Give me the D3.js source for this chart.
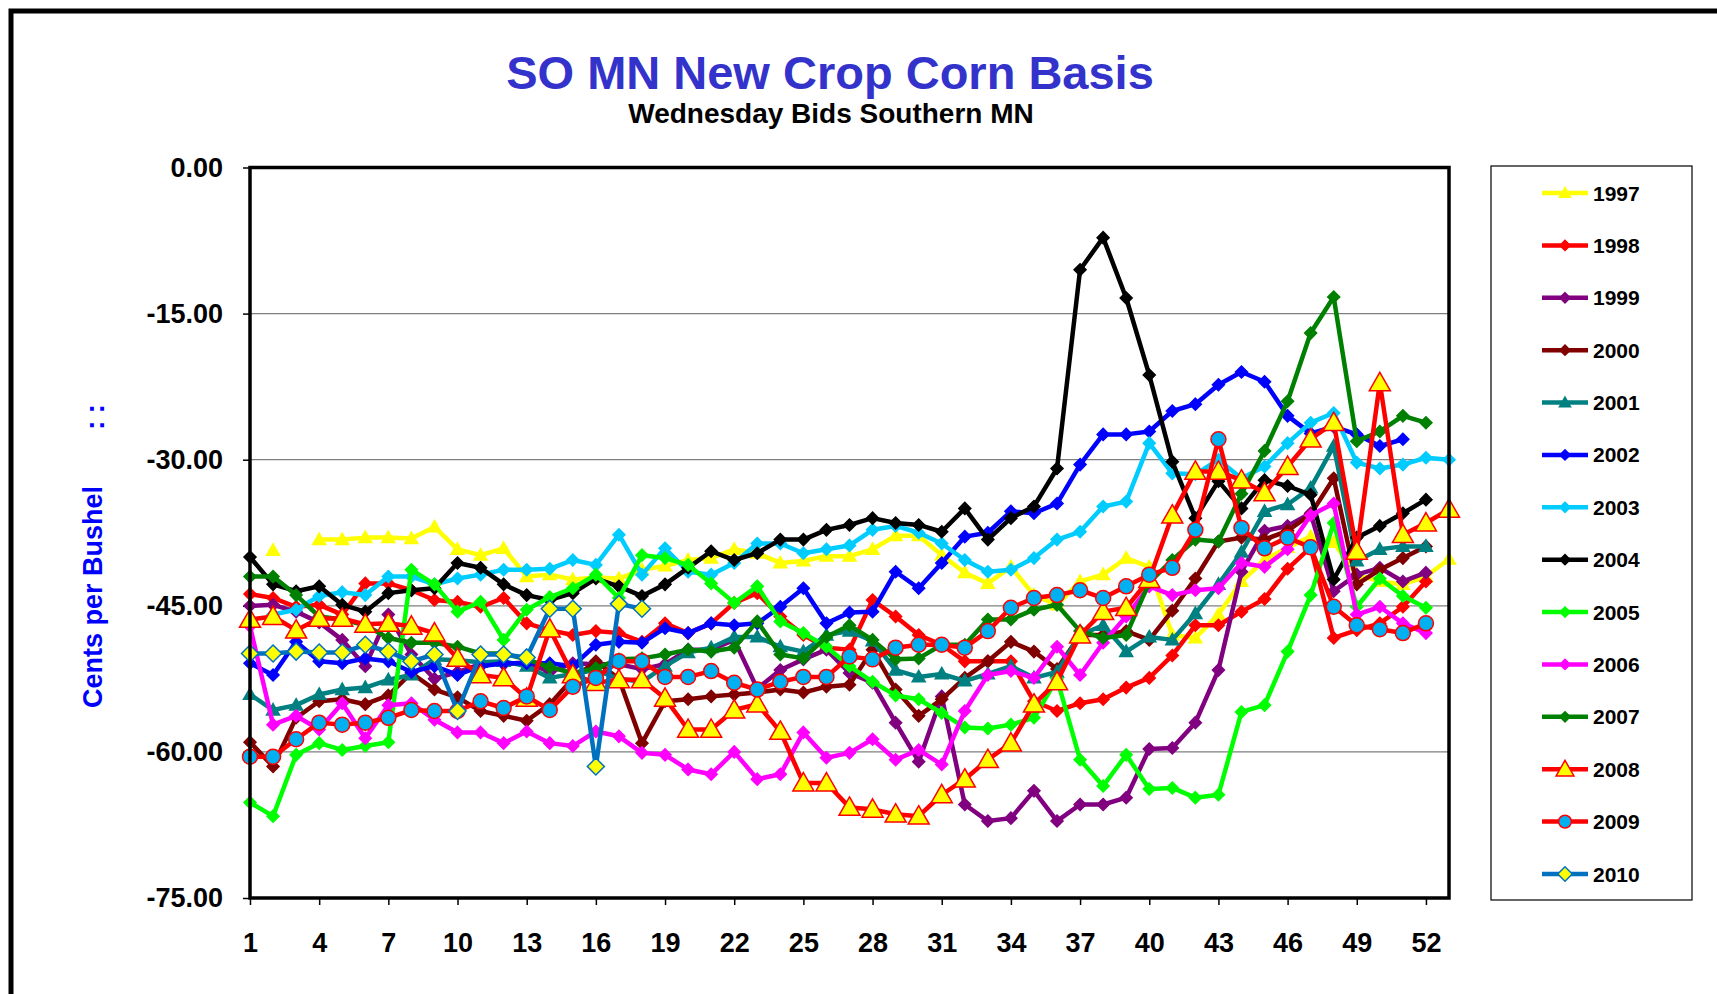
<!DOCTYPE html>
<html>
<head>
<meta charset="utf-8">
<title>SO MN New Crop Corn Basis</title>
<script src="https://d3js.org/d3.v7.min.js"></script>
<style>
  body { margin: 0; background: #ffffff; }
  text { font-family: Arial, "Liberation Sans", sans-serif; font-weight: bold; }
</style>
</head>
<body>
<div id="chart"></div>
<script>
// week numbers 1..53 and tick weeks on the x axis
var weeks = d3.range(1, 54);
var xTicks = [1, 4, 7, 10, 13, 16, 19, 22, 25, 28, 31, 34, 37, 40, 43, 46, 49, 52];
var yTicks = [0, -15, -30, -45, -60, -75];

// basis, cents per bushel, one value per week (null = no bid)
var y1997 = [null, -39.3, null, -38.2, -38.2, -38.0, -38.0, -38.1, -36.9, -39.2, -39.8, -39.1, -42.0, -41.8, -42.3, -42.1, -42.2, -41.3, -40.9, -40.3, -40.1, -39.2, -39.6, -40.6, -40.4, -39.9, -39.9, -39.2, -37.8, -37.8, -39.8, -41.6, -42.7, -41.0, -43.9, -44.9, -42.5, -41.8, -40.1, -41.0, -48.0, -48.3, -45.9, -42.5, -40.3, -39.0, -37.9, -38.5, -41.8, -42.5, -42.8, -42.0, -40.2];
var y1998 = [-43.8, -44.2, -45.1, -44.9, -45.9, -42.7, -42.7, -43.4, -44.4, -44.6, -45.1, -44.2, -46.8, -47.5, -48.0, -47.6, -47.8, -48.7, -46.8, -47.8, -46.8, -44.7, -43.7, -46.1, -48.0, -49.3, -49.5, -44.4, -46.1, -48.0, -49.0, -50.7, -50.7, -50.7, -54.8, -55.8, -55.0, -54.6, -53.4, -52.4, -50.1, -47.0, -47.0, -45.6, -44.3, -41.2, -39.0, -48.3, -47.5, -46.8, -45.1, -42.5, null];
var y1999 = [-45.0, -44.9, -45.6, -46.7, -48.5, -51.2, -45.9, -50.0, -52.5, -51.8, -51.0, -51.0, -50.8, -51.8, -50.9, -51.0, -51.0, -51.5, -51.0, -49.5, -49.5, -48.5, -53.5, -51.6, -50.5, -49.5, -51.9, -52.9, -57.0, -61.0, -54.3, -65.4, -67.1, -66.8, -64.0, -67.1, -65.4, -65.4, -64.7, -59.7, -59.6, -57.0, -51.6, -41.5, -37.3, -36.8, -35.5, -43.5, -41.8, -41.1, -42.5, -41.6, null];
var y2000 = [-59.0, -61.5, -56.5, -54.8, -54.6, -55.1, -54.2, -51.9, -53.6, -54.4, -55.8, -56.3, -56.8, -55.1, -52.5, -50.7, -52.5, -59.1, -54.8, -54.6, -54.3, -54.1, -53.9, -53.6, -53.9, -53.3, -53.1, -49.5, -53.6, -56.3, -54.6, -52.4, -50.7, -48.7, -49.7, -51.5, -48.0, -48.0, -47.6, -48.5, -45.5, -42.2, -38.4, -38.0, -38.2, -37.3, -35.6, -31.9, -42.8, -41.3, -40.1, -38.9, null];
var y2001 = [-54.1, -55.7, -55.2, -54.1, -53.6, -53.4, -52.6, -52.1, -50.5, -50.6, -50.8, -50.7, -51.2, -52.4, -52.0, -51.6, -52.5, -52.8, -51.2, -49.8, -49.3, -48.2, -48.2, -49.2, -49.7, -48.0, -47.6, -48.6, -51.6, -52.3, -52.0, -52.7, -52.0, -51.2, -52.4, -51.8, -48.0, -47.0, -49.7, -48.2, -48.5, -45.8, -42.8, -39.5, -35.3, -34.6, -32.9, -28.6, -40.4, -39.2, -38.9, -38.9, null];
var y2002 = [-50.9, -52.1, -48.7, -50.7, -50.9, -50.4, -50.7, -51.8, -51.2, -52.1, -51.2, -50.9, -50.9, -50.9, -51.2, -49.0, -48.7, -48.8, -47.3, -47.8, -46.8, -47.0, -46.8, -45.1, -43.2, -46.8, -45.7, -45.6, -41.5, -43.2, -40.6, -37.9, -37.5, -35.3, -35.5, -34.5, -30.5, -27.4, -27.4, -27.1, -25.0, -24.3, -22.3, -21.0, -22.0, -25.5, -27.3, -26.6, -27.4, -28.6, -27.9, null, null];
var y2003 = [null, -45.9, -45.4, -44.0, -43.6, -43.9, -42.0, -42.0, -42.8, -42.2, -41.8, -41.3, -41.3, -41.2, -40.3, -40.8, -37.7, -41.8, -39.1, -41.5, -41.8, -40.6, -38.6, -38.6, -39.6, -39.2, -38.8, -37.2, -36.8, -37.5, -38.6, -40.3, -41.5, -41.3, -40.1, -38.2, -37.4, -34.8, -34.3, -28.3, -31.4, -31.5, -30.0, -31.9, -30.7, -28.3, -26.2, -25.2, -30.3, -30.9, -30.5, -29.8, -30.0];
var y2004 = [-40.0, -42.8, -43.5, -43.0, -44.9, -45.6, -43.7, -43.4, -43.2, -40.6, -41.1, -42.8, -43.9, -44.4, -43.7, -42.2, -43.0, -44.0, -42.8, -41.1, -39.4, -40.3, -39.6, -38.2, -38.2, -37.2, -36.7, -36.0, -36.5, -36.7, -37.4, -35.0, -38.2, -36.0, -34.8, -30.9, -10.5, -7.2, -13.4, -21.3, -30.2, -36.0, -32.2, -35.0, -32.1, -32.7, -33.6, -42.3, -38.0, -36.8, -35.5, -34.1, null];
var y2005 = [-65.2, -66.6, -60.3, -59.1, -59.8, -59.4, -59.0, -41.3, -42.8, -45.6, -44.6, -48.5, -45.4, -44.1, -43.2, -41.8, -44.2, -39.8, -40.1, -40.8, -42.7, -44.7, -43.0, -46.6, -47.8, -49.2, -51.2, -52.8, -54.2, -54.6, -56.0, -57.5, -57.6, -57.2, -56.5, -52.5, -60.8, -63.5, -60.3, -63.8, -63.7, -64.7, -64.4, -55.9, -55.2, -49.7, -43.9, -36.5, -45.1, -42.2, -44.0, -45.2, null];
var y2006 = [-47.1, -57.2, -56.3, -57.7, -55.0, -58.6, -55.2, -55.0, -56.7, -58.0, -58.0, -59.1, -57.9, -59.1, -59.4, -57.9, -58.4, -60.1, -60.3, -61.8, -62.3, -60.0, -62.8, -62.3, -58.0, -60.6, -60.1, -58.7, -60.8, -59.8, -61.3, -55.8, -52.1, -51.7, -52.4, -49.2, -52.1, -48.8, -46.1, -43.0, -43.9, -43.4, -43.2, -40.6, -41.0, -39.2, -35.7, -34.5, -45.9, -45.1, -46.8, -47.8, null];
var y2007 = [-42.0, -42.0, -43.9, -46.1, -46.4, -47.0, -48.3, -48.8, -48.8, -49.2, -49.9, -49.9, -50.5, -51.3, -51.9, -51.4, -50.5, -50.4, -50.0, -49.5, -49.7, -49.3, -46.6, -50.0, -50.4, -48.2, -47.0, -48.5, -50.5, -50.4, -49.0, -49.0, -46.4, -46.4, -45.4, -44.9, -47.6, -48.3, -48.0, -42.6, -40.3, -38.2, -38.4, -33.5, -29.1, -24.0, -17.0, -13.3, -28.1, -27.1, -25.5, -26.2, null];
var y2008 = [-46.4, -46.1, -47.5, -46.3, -46.3, -46.9, -46.8, -47.1, -47.8, -50.4, -52.1, -52.4, -54.5, -47.4, -52.1, -52.9, -52.6, -52.6, -54.5, -57.7, -57.7, -55.7, -55.1, -57.9, -63.2, -63.2, -65.7, -65.9, -66.4, -66.6, -64.4, -62.8, -60.8, -59.1, -55.1, -52.8, -48.0, -45.6, -45.2, -42.3, -35.7, -31.2, -31.2, -32.1, -33.4, -30.7, -27.9, -26.2, -39.4, -22.1, -37.7, -36.5, -35.1];
var y2009 = [-60.5, -60.5, -58.7, -57.0, -57.2, -57.0, -56.5, -55.7, -55.8, -55.8, -54.8, -55.5, -54.3, -55.7, -53.3, -52.4, -50.7, -50.7, -52.3, -52.3, -51.7, -52.9, -53.6, -52.8, -52.3, -52.3, -50.2, -50.5, -49.3, -49.0, -49.0, -49.3, -47.6, -45.2, -44.2, -43.9, -43.4, -44.2, -43.0, -41.8, -41.1, -37.2, -27.9, -37.0, -39.1, -38.0, -39.0, -45.1, -47.0, -47.4, -47.8, -46.8, null];
var y2010 = [-49.9, -49.9, -49.7, -49.8, -49.8, -49.0, -49.7, -50.7, -50.0, -55.8, -50.0, -50.0, -50.3, -45.3, -45.3, -61.5, -44.8, -45.3];

var years = ["1997", "1998", "1999", "2000", "2001", "2002", "2003", "2004", "2005", "2006", "2007", "2008", "2009", "2010"];
var values = [y1997, y1998, y1999, y2000, y2001, y2002, y2003, y2004, y2005, y2006, y2007, y2008, y2009, y2010];

// look of each series: line colour, marker shape, marker fill / outline, marker size
var styles = {
  "1997": {line: "#ffff00", shape: "triangle", fill: "#ffff00", stroke: "#ffff00", r: 6.5},
  "1998": {line: "#ff0000", shape: "diamond", fill: "#ff0000", stroke: "#ff0000", r: 6},
  "1999": {line: "#800080", shape: "diamond", fill: "#800080", stroke: "#800080", r: 6},
  "2000": {line: "#800000", shape: "diamond", fill: "#800000", stroke: "#800000", r: 6},
  "2001": {line: "#008080", shape: "triangle", fill: "#008080", stroke: "#008080", r: 6.5},
  "2002": {line: "#0000ff", shape: "diamond", fill: "#0000ff", stroke: "#0000ff", r: 6},
  "2003": {line: "#00ccff", shape: "diamond", fill: "#00ccff", stroke: "#00ccff", r: 6},
  "2004": {line: "#000000", shape: "diamond", fill: "#000000", stroke: "#000000", r: 6},
  "2005": {line: "#00ff00", shape: "diamond", fill: "#00ff00", stroke: "#00ff00", r: 6},
  "2006": {line: "#ff00ff", shape: "diamond", fill: "#ff00ff", stroke: "#ff00ff", r: 6},
  "2007": {line: "#008000", shape: "diamond", fill: "#008000", stroke: "#008000", r: 6},
  "2008": {line: "#ff0000", shape: "triangle", fill: "#ffff00", stroke: "#ff0000", r: 10.5},
  "2009": {line: "#ff0000", shape: "circle", fill: "#00b0f0", stroke: "#ff0000", r: 7.5},
  "2010": {line: "#0070c0", shape: "diamond", fill: "#ffff00", stroke: "#0070c0", r: 8.5}
};

function markerPath(shape, r) {
  if (shape === "diamond") return "M0," + (-r) + "L" + r + ",0L0," + r + "L" + (-r) + ",0Z";
  if (shape === "triangle") return "M0," + (-r) + "L" + r + "," + (r * 0.75) + "L" + (-r) + "," + (r * 0.75) + "Z";
  return "M" + r + ",0A" + r + "," + r + " 0 1,1 " + (-r) + ",0A" + r + "," + r + " 0 1,1 " + r + ",0Z";
}

var W = 1717, H = 994;
var svg = d3.select("#chart").append("svg")
  .attr("width", W).attr("height", H)
  .style("display", "block");

svg.append("rect").attr("width", W).attr("height", H).attr("fill", "#ffffff");

// outer frame
svg.append("rect")
  .attr("x", 11).attr("y", 11).attr("width", W + 20).attr("height", H + 20)
  .attr("fill", "none").attr("stroke", "#000").attr("stroke-width", 5);

var x = d3.scaleLinear().domain([1, 53]).range([250, 1449]);
var y = d3.scaleLinear().domain([-75, 0]).range([898, 167.5]);

// gridlines
svg.append("g").selectAll("line")
  .data(yTicks.filter(function(d) { return d !== 0 && d !== -75; }))
  .enter().append("line")
  .attr("x1", x(1)).attr("x2", x(53))
  .attr("y1", function(d) { return y(d); })
  .attr("y2", function(d) { return y(d); })
  .attr("stroke", "#7f7f7f").attr("stroke-width", 1.2);

// axes
var yAxis = d3.axisLeft(y).tickValues(yTicks).tickSize(7).tickPadding(20)
  .tickFormat(function(d) { return d.toFixed(2); });
var gy = svg.append("g").attr("transform", "translate(" + x(1) + ",0)").call(yAxis);
gy.select(".domain").remove();
gy.selectAll(".tick line").attr("stroke", "#000").attr("stroke-width", 1.5);
gy.selectAll(".tick text").attr("font-size", 27).attr("font-weight", "bold")
  .attr("font-family", "Arial, 'Liberation Sans', sans-serif").attr("fill", "#000");

var xAxis = d3.axisBottom(x).tickValues(xTicks).tickSize(7).tickPadding(28)
  .tickFormat(d3.format("d"));
var gx = svg.append("g").attr("transform", "translate(0," + y(-75) + ")").call(xAxis);
gx.select(".domain").remove();
gx.selectAll(".tick line").attr("stroke", "#000").attr("stroke-width", 1.5);
gx.selectAll(".tick text").attr("font-size", 27).attr("font-weight", "bold")
  .attr("font-family", "Arial, 'Liberation Sans', sans-serif").attr("fill", "#000");

// series
var line = d3.line()
  .defined(function(d) { return d.v != null; })
  .x(function(d) { return x(d.w); })
  .y(function(d) { return y(d.v); });

var plot = svg.append("g");
years.forEach(function(yr, i) {
  var st = styles[yr];
  var pts = values[i].map(function(v, j) { return {w: weeks[j], v: v}; });
  var g = plot.append("g").attr("class", "series s" + yr);
  g.append("path").datum(pts)
    .attr("d", line)
    .attr("fill", "none")
    .attr("stroke", st.line)
    .attr("stroke-width", 4.5)
    .attr("stroke-linejoin", "round");
  g.selectAll("path.mk")
    .data(pts.filter(function(d) { return d.v != null; }))
    .enter().append("path")
    .attr("class", "mk")
    .attr("d", markerPath(st.shape, st.r))
    .attr("transform", function(d) { return "translate(" + x(d.w) + "," + y(d.v) + ")"; })
    .attr("fill", st.fill)
    .attr("stroke", st.stroke)
    .attr("stroke-width", 1.5);
});

// plot frame
svg.append("rect")
  .attr("x", x(1)).attr("y", y(0))
  .attr("width", x(53) - x(1)).attr("height", y(-75) - y(0))
  .attr("fill", "none").attr("stroke", "#000").attr("stroke-width", 3.5);

// titles
svg.append("text").attr("x", 830).attr("y", 89)
  .attr("text-anchor", "middle").attr("font-size", 47).attr("fill", "#3333cc")
  .text("SO MN New Crop Corn Basis");
svg.append("text").attr("x", 831).attr("y", 123)
  .attr("text-anchor", "middle").attr("font-size", 28).attr("fill", "#000")
  .text("Wednesday Bids Southern MN");
svg.append("text")
  .attr("transform", "translate(102,597) rotate(-90)")
  .attr("text-anchor", "middle").attr("font-size", 27).attr("fill", "#0000ff")
  .text("Cents per Bushel");
svg.append("text")
  .attr("transform", "translate(104,417) rotate(-90)")
  .attr("text-anchor", "middle").attr("font-size", 27).attr("fill", "#0000ff")
  .text(": :");

// legend
var lg = svg.append("g");
lg.append("rect").attr("x", 1491).attr("y", 166).attr("width", 201).attr("height", 734)
  .attr("fill", "#fff").attr("stroke", "#000").attr("stroke-width", 1.2);
var ly = d3.scalePoint().domain(years).range([193, 874]);
var items = lg.selectAll("g.item").data(years).enter().append("g")
  .attr("class", "item")
  .attr("transform", function(d) { return "translate(0," + ly(d) + ")"; });
items.append("line").attr("x1", 1542).attr("x2", 1588)
  .attr("stroke", function(d) { return styles[d].line; }).attr("stroke-width", 4.5);
items.append("path")
  .attr("d", function(d) { return markerPath(styles[d].shape, styles[d].r * 0.85); })
  .attr("transform", "translate(1565,0)")
  .attr("fill", function(d) { return styles[d].fill; })
  .attr("stroke", function(d) { return styles[d].stroke; }).attr("stroke-width", 1.5);
items.append("text").attr("x", 1593).attr("dy", "0.36em")
  .attr("font-size", 21).attr("fill", "#000")
  .text(function(d) { return d; });
</script>
</body>
</html>
